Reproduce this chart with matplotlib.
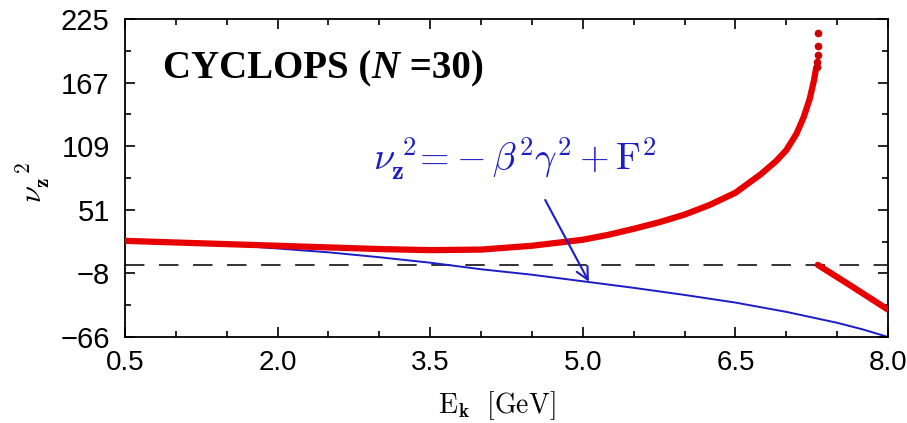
import numpy as np
import matplotlib
matplotlib.use("Agg")
import matplotlib.pyplot as plt

# values
e_blue = [0.5, 1.0, 1.5, 2.0, 2.5, 3.0, 3.5, 4.0, 4.5, 5.0, 5.5, 6.0, 6.5, 7.0, 7.5, 7.75, 8.0]
nu_blue = [22, 20.5, 18.5, 15, 11.5, 7, 2, -4, -9, -15, -21, -27.5, -34.5, -43, -53, -59, -66]

e_red = [0.5, 1.0, 1.5, 2.0, 2.5, 3.0, 3.5, 4.0, 4.5, 5.0, 5.25, 5.5, 5.75, 6.0,
         6.25, 6.5, 6.75, 6.9, 7.0, 7.1, 7.17, 7.23, 7.27, 7.295]
nu_red = [22, 20.5, 19, 17.5, 16, 14.5, 13.5, 14, 17.5, 23, 27.5, 33, 39, 46,
          55, 66, 83, 95, 105, 120, 135, 152, 168, 181]
e_red_dots = [7.303, 7.306, 7.309, 7.312, 7.316]
nu_red_dots = [181, 186, 192, 200, 212]

e_red2 = [7.31, 7.65, 8.0]
nu_red2 = [0, -20, -41]

ytick_vals = np.linspace(-66, 225, 6)
ytick_labels = ["\u221266", "\u22128", "51", "109", "167", "225"]
xtick_vals = [0.5, 2.0, 3.5, 5.0, 6.5, 8.0]
xtick_labels = ["0.5", "2.0", "3.5", "5.0", "6.5", "8.0"]

plt.rcParams["mathtext.fontset"] = "cm"

fig = plt.figure(figsize=(9.07, 4.23), dpi=100)
ax = fig.add_axes([0.1378, 0.2033, 0.9791 - 0.1378, 0.955 - 0.2033])

blue = "#1c1cc8"
red = "#e80000"

ax.axhline(0, color="#333333", lw=1.4, dashes=(10, 7.5), zorder=1)
ax.plot(e_blue, nu_blue, color=blue, lw=1.4, zorder=2)
ax.plot(e_red, nu_red, color=red, lw=4.5, solid_capstyle="round",
        solid_joinstyle="round", zorder=3)
ax.plot(e_red_dots, nu_red_dots, "o", color="#d00000", ms=4.5, zorder=3)
ax.plot(e_red2, nu_red2, color=red, lw=4.5, solid_capstyle="round", zorder=3)

ax.set_xlim(0.5, 8.0)
ax.set_ylim(-66, 225)
ax.set_xticks(xtick_vals)
ax.set_xticklabels(xtick_labels, family="Liberation Sans", fontsize=20)
ax.set_xticks(np.arange(0.5, 8.01, 0.5), minor=True)
ax.set_yticks(ytick_vals)
ax.set_yticklabels(ytick_labels, family="Liberation Sans", fontsize=21)
ax.set_yticks((ytick_vals[:-1] + ytick_vals[1:]) / 2, minor=True)
ax.tick_params(which="both", direction="in", top=True, right=True, width=1.2)
ax.tick_params(which="major", length=7)
ax.tick_params(which="minor", length=4)
ax.tick_params(axis="x", which="major", pad=9.5)
ax.tick_params(axis="y", which="major", pad=11)
for s in ax.spines.values():
    s.set_linewidth(1.3)

fig.text(497 / 907, 1 - 413 / 423, r"$\mathrm{E}_{\mathbf{k}}\ \ \mathrm{[GeV]}$",
         fontsize=20, ha="center", va="baseline")
fig.text(0.036, 0.57, r"$\nu_{\mathbf{z}}^{\ \ \mathbf{2}}$", rotation=90,
         fontsize=22, ha="center", va="center")

# title built from three pieces so that N is italic
renderer = fig.canvas.get_renderer()
x_px, y_px = 163, 423 - 78
pieces = [("CYCLOPS (", "normal"), ("N", "italic"), (" =30)", "normal")]
for s, style in pieces:
    t = fig.text(x_px / 907, y_px / 423, s, family="Liberation Serif",
                 weight="bold", style=style, fontsize=28, va="baseline")
    bb = t.get_window_extent(renderer)
    x_px = bb.x1

fig.text(373 / 907, 1 - 170 / 423,
         r"$\nu_{\mathbf{z}}^{\ \mathbf{2}}\!=\!-\beta^{\mathbf{2}}\gamma^{\mathbf{2}}+\mathrm{F}^{\mathbf{2}}$",
         color=blue, fontsize=27.5, va="baseline")

ax.annotate("", xy=(5.06, -15.4), xytext=(4.63, 59.4),
            arrowprops=dict(arrowstyle="->", color=blue, lw=1.5,
                            mutation_scale=22, shrinkA=0, shrinkB=0))

fig.savefig("out.png", dpi=100)
